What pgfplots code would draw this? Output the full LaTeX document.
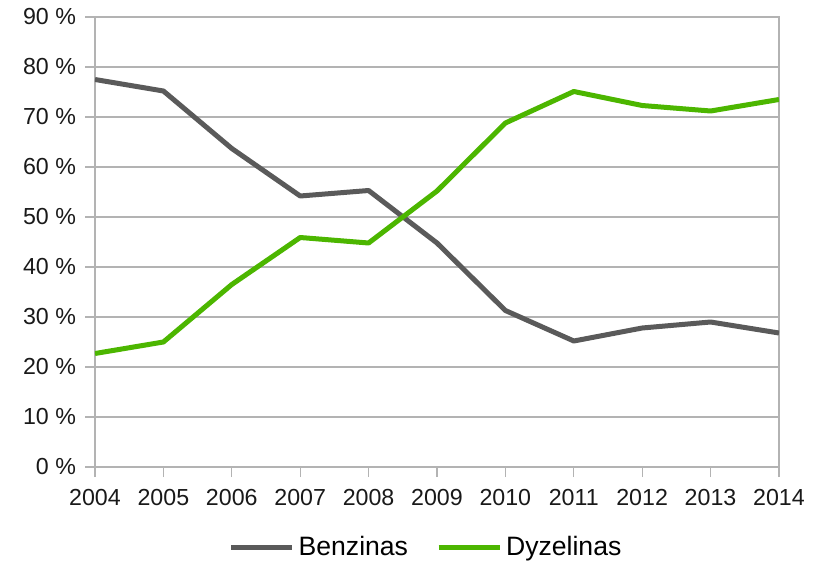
\documentclass[border=0pt]{standalone}
\usepackage{pgfplots}
\pgfplotsset{compat=1.18}
\usepackage{fontspec}
\setmainfont{Liberation Sans}
\definecolor{benz}{HTML}{5A5A5A}
\definecolor{dyz}{HTML}{4CB600}
\definecolor{gridc}{HTML}{B3B3B3}
\begin{document}
\begin{tikzpicture}
\begin{axis}[
  scale only axis,
  width=342pt, height=225pt,
  xmin=2004, xmax=2014, ymin=0, ymax=90,
  xtick={2004,...,2014},
  ytick={0,10,...,90},
  tick pos=left,
  /pgf/number format/assume math mode=true,
  xticklabel={\pgfmathprintnumber[1000 sep={}]{\tick}},
  yticklabel={\pgfmathprintnumber{\tick}~\%},
  tick align=outside,
  major tick length=5pt,
  tick style={gridc, line width=0.6pt},
  axis line style={gridc, line width=0.6pt},
  ymajorgrids,
  grid style={gridc, line width=0.6pt},
  every tick label/.append style={font=\fontsize{11.6}{14}\selectfont, text=black!90},
  xticklabel style={yshift=-2.5pt},
  yticklabel style={xshift=-1pt},
  legend style={at={(0.4854,-0.178)}, anchor=center, draw=none, fill=none,
    font=\fontsize{13.3}{15}\selectfont, legend columns=2,
    /tikz/every even column/.append style={column sep=12pt}},
  legend image code/.code={\draw[#1] (0pt,0pt) -- (30.5pt,0pt);},
]
\addplot[benz, line width=2.5pt, line join=round] coordinates {
(2004,77.5) (2005,75.2) (2006,63.7) (2007,54.2) (2008,55.3) (2009,44.8)
(2010,31.3) (2011,25.2) (2012,27.8) (2013,29.0) (2014,26.8)};
\addlegendentry{Benzinas}
\addplot[dyz, line width=2.5pt, line join=round] coordinates {
(2004,22.7) (2005,25.0) (2006,36.5) (2007,45.9) (2008,44.8) (2009,55.2)
(2010,68.8) (2011,75.1) (2012,72.3) (2013,71.2) (2014,73.5)};
\addlegendentry{Dyzelinas}
\end{axis}
\path (-47.5pt,-46pt) rectangle (367pt,233.5pt);
\end{tikzpicture}
\end{document}
